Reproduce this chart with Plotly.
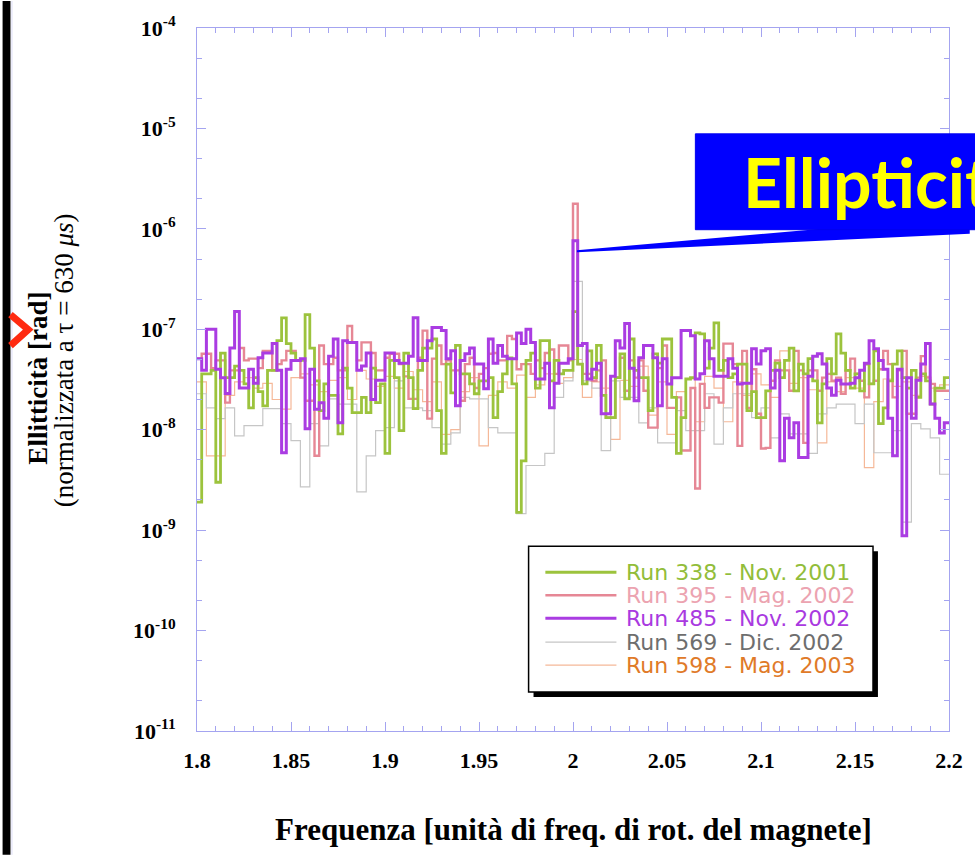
import plotly.graph_objects as go

# ---------------- data (ellipticity values in units of 1e-8 rad) ----------------
SCALE = 1e-8
F_MIN, F_MAX = 1.8, 2.2

run338 = [0.19, 3.6, 3.6, 3.9, 0.30, 5.8, 3.3, 3.3, 4.3, 3.9,
          2.86, 1.65, 3.3, 2.4, 1.73, 3.9, 3.9, 7.7, 13, 7.2,
          5.8, 4.9, 4.9, 14, 6.5, 3.07, 1.55, 2.86, 2.2, 2.2,
          0.91, 4.1, 2.6, 1.48, 1.48, 2.1, 1.48, 4.1, 1.86, 2.86,
          0.58,
          4.9, 3.3, 0.98, 5.8, 3.3, 1.62, 3.9, 6.5, 6.5, 8,
          1.55, 0.58, 4.5, 2.33, 6.9, 3.6, 3.6, 2.86, 2.28, 3.07,
          3.07, 3.3, 1.32, 2.4, 3.6, 5.2, 2.86, 0.15, 0.49, 4.9,
          5.8, 2.6, 7.7, 7.7, 3.07, 4.9, 3.6, 3.9, 3.9,
          15,
          4.5, 2.86, 6.1, 3.3, 6.9, 2.2, 1.32, 1.32, 3.3, 5.7,
          2.03, 8, 3.9, 3.3, 3.3, 1.55, 5.7, 4.6, 8, 8,
          2.1, 0.58, 1.32, 3.2, 3.3, 9.2, 9, 4.1, 6.5, 11.6,
          3.9, 4.9, 3.3, 3.6, 4.5, 4.5, 1.55, 2.4, 1.32, 1.32,
          2.44, 3.9, 4.6, 3.3, 4.9, 6.5, 2.44, 4.5, 3.6, 5.1,
          3.07, 1.17, 2.86, 5.1, 3.6, 9, 5.8, 3.9, 2.6, 3.6,
          2.44, 4.5, 2.86, 6.1, 1.15, 1.65, 3.07, 4.5, 6.1, 3.3,
          2.6, 3.9, 2.1, 3.6, 3.07, 1.8, 2.6, 2.6, 3.3]

run395 = [5.1, 5.7, 5.7, 4.1, 4.9, 4.9, 1.86, 3.9, 3.9, 6.5,
          4.9, 5.1, 5.1, 4.1, 6.1, 6.1, 3.9, 4.5, 4.9, 6.1,
          6.1, 4.9, 3.3, 1.94, 1.94, 0.55, 6.9, 4.5, 4.5, 5.2,
          3.9, 3.9, 10.8, 7.4, 4.9, 7.4, 7.4, 5.8, 3.9, 3.9,
          5.2,
          5.7, 5.7, 4.5, 3.4, 2.03, 2.03, 5.2, 9.7, 1.29, 5.1,
          6.9, 4.5, 4.9, 3.9, 3.9, 1.94, 4.5, 5.2, 2.6, 3.6,
          4.1, 5.7, 5.8, 4.9, 4.9, 8.6, 8, 4.0, 4.5, 4.5,
          3.6, 4.9, 4.1, 5.8, 6.3, 3.6, 6.9, 6.9, 4.9,
          178,
          4.5, 3.6, 3.6, 3.07, 3.9, 4.9, 1.32, 1.32, 3.3, 5.2,
          2.44, 4.9, 3.3, 4.9, 2.44, 1.05, 1.05, 4.1, 6.9, 1.65,
          1.65, 2.1, 0.62, 0.62, 2.6, 0.26, 2.86, 1.65, 2.1, 2.1,
          1.86, 7.2, 7.2, 4.5, 0.69, 6.1, 1.65, 4.0, 1.44, 0.65,
          0.66, 3.07, 4.9, 3.9, 3.9, 2.44, 6.1, 3.9, 0.74, 3.9,
          3.9, 2.44, 3.3, 3.6, 3.07, 3.3, 2.28, 3.9, 5.1, 3.6,
          3.07, 2.1, 2.86, 3.07, 4.0, 6.1, 4.5, 2.1, 3.9, 6.1,
          1.44, 1.44, 3.3, 5.4, 3.3, 2.86, 2.44, 2.44, 2.44]

run485 = [5.1, 3.9, 10, 10, 4.0, 3.3, 2.3, 6.5, 15, 2.6,
          2.6, 4, 2.9, 5.2, 5.8, 5.8, 7.2, 3.9, 0.59, 4,
          4.9, 4.9, 5.1, 1.02, 4, 1.6, 1.86, 1.3, 5.4, 8,
          1.17, 7.7, 7.4, 7.4, 3.9, 4.3, 5.8, 2.0, 3.1, 3.1,
          5.8,
          5.8, 4.9, 4.6, 4.6, 5.4, 13, 4.9, 4.9, 7.7, 10.4,
          10.4, 9.7, 5.1, 6.1, 1.73, 4.9, 5.7, 6.5, 4.5, 4.5,
          2.56, 8, 4.6, 6.9, 5.4, 5.1, 5.1, 9.2, 7.2, 10,
          7.4, 3.2, 3.2, 4.6, 1.65, 2.9, 4.6, 4.6, 5.1,
          76,
          6.9, 7.2, 3.2, 4.0, 4.6, 1.44, 1.44, 3.4, 7.7, 6.5,
          11.4, 4.1, 1.94, 5.2, 6.9, 6.9, 5.2, 1.73, 5.1, 2.86,
          3.3, 3.3, 9.7, 9.7, 8.6, 3.2, 3.6, 7.7, 5.1, 3.4,
          3.4, 3.4, 5.1, 4.1, 2.86, 2.9, 2.9, 6.4, 4.5, 6.1,
          6.4, 2.6, 3.9, 0.49, 1.3, 0.83, 1.17, 0.53, 0.53, 3.4,
          5.4, 5.7, 4.5, 2.6, 2.2, 3.1, 2.86, 2.86, 2.9, 3.3,
          3.9, 4.6, 7.7, 6.4, 4.9, 4.0, 1.3, 0.55, 4.0, 0.088,
          3.3, 1.3, 3.1, 4.5, 7.2, 1.8, 1.3, 0.93, 1.17]

run569 = [2.28, 1.65, 1.29, 1.65, 0.87, 1.1, 1.1, 1.62, 1.62, 1.15,
          0.78, 0.27, 1.15, 0.69, 2.03, 1.8, 1.8, 0.24, 0.55, 0.98,
          1.05, 3.07, 1.65, 1.65, 1.55, 1.05, 0.72, 0.93, 2.1, 2.03,
          2.03, 1.05, 0.93, 0.93, 0.146, 0.44, 0.44, 0.58, 2.1, 3.07,
          30,
          3.07, 2.6, 0.62, 3.07, 2.1, 2.1, 1.17, 1.65, 0.74, 0.74,
          1.55, 0.98, 0.98, 2.28, 0.72, 1.65, 2.28, 2.28, 1.32, 1.65,
          0.83, 1.44, 0.91, 0.91, 0.58, 1.44, 1.65, 1.8, 1.8, 1.15,
          1.8, 0.59, 0.59, 0.98, 0.12, 1.15, 1.02, 0.83, 0.36]

run598 = [3.0, 0.55, 0.55, 2.2, 3.0, 3.3, 2.6, 2.9, 2.0, 1.6,
          3.3, 3.6, 2.8, 2.4, 3.1, 3.3, 2.0, 3.9, 3.2, 2.7,
          3.4, 2.6, 3.8, 2.5, 1.9, 3.0, 0.9, 1.0, 2.4, 3.3,
          0.69, 2.2, 3.0, 2.6, 3.5, 2.1, 2.8, 3.6, 2.9, 3.3,
          5.0, 2.1, 3.0, 2.6, 0.8, 3.1, 2.7, 4.3, 1.4, 3.0,
          0.9, 2.4, 3.2, 1.2, 3.4, 2.6, 1.2, 3.0, 2.2, 3.6,
          2.8, 2.1, 6.1, 2.9, 3.3, 2.5, 0.74, 3.0, 2.4, 3.3,
          2.6, 0.42, 1.9, 3.2, 2.7, 3.0, 2.2, 3.4, 2.6, 2.8]

LEGEND_LABELS = ["Run 338 - Nov. 2001", "Run 395 - Mag. 2002", "Run 485 - Nov. 2002",
                 "Run 569 - Dic. 2002", "Run 598 - Mag. 2003"]
X_TICKS = [1.8, 1.85, 1.9, 1.95, 2.0, 2.05, 2.1, 2.15, 2.2]
X_TICK_TEXT = ["1.8", "1.85", "1.9", "1.95", "2", "2.05", "2.1", "2.15", "2.2"]
Y_EXP = [-11, -10, -9, -8, -7, -6, -5, -4]

# ---------------- styles ----------------
W, H = 975, 855
L, R, T, B = 197, 959, 27, 731
AX = "#a4a4f0"

def px(x):
    return (x - L) / (R - L)

def py(y):
    return (B - y) / (B - T)

series = [  # data, line colour, width, legend text colour, legend row
    (run598, "#f5b898", 1.2, "#e07a28", 4),
    (run569, "#c6c6c6", 1.2, "#6e6e6e", 3),
    (run395, "#e68795", 2.4, "#eca3b0", 1),
    (run338, "#9cc33d", 2.8, "#92bd3a", 0),
    (run485, "#aa3ce2", 3.0, "#a93ae0", 2),
]

fig = go.Figure()
for vals, color, width, _, _ in series:
    n = len(vals)
    step = (F_MAX - F_MIN) / n
    xs = [F_MIN + i * step for i in range(n)] + [F_MAX]
    ys = [v * SCALE for v in vals] + [vals[-1] * SCALE]
    fig.add_trace(go.Scatter(x=xs, y=ys, mode="lines",
                             line=dict(color=color, width=width, shape="hv"),
                             showlegend=False, hoverinfo="skip"))

serif = "Liberation Serif, Times New Roman, serif"
tickfont = dict(family=serif, size=22, color="black", weight="bold")
fig.update_xaxes(range=[F_MIN, F_MAX], tickmode="array", tickvals=X_TICKS, ticktext=X_TICK_TEXT,
                 ticks="inside", ticklen=9, tickcolor=AX, showline=True, linecolor=AX, linewidth=1,
                 mirror="allticks", showgrid=False, zeroline=False, tickfont=tickfont,
                 ticklabelstandoff=10,
                 minor=dict(dtick=0.01, ticks="inside", ticklen=5, tickcolor=AX, showgrid=False))
fig.update_yaxes(type="log", range=[-11, -4], tickmode="array",
                 tickvals=[10.0 ** e for e in Y_EXP],
                 ticktext=["10<sup>%d</sup>" % e for e in Y_EXP],
                 ticks="inside", ticklen=9, tickcolor=AX, showline=True, linecolor=AX, linewidth=1,
                 mirror="allticks", showgrid=False, zeroline=False, tickfont=tickfont,
                 ticklabelstandoff=16,
                 minor=dict(ticks="inside", ticklen=5, tickcolor=AX, showgrid=False))

shapes = []
annotations = []

# left black strip and red chevron
shapes.append(dict(type="rect", xref="paper", yref="paper", x0=px(0), x1=px(8), y0=py(H), y1=py(0),
                   fillcolor="black", line=dict(width=0), layer="above"))
shapes.append(dict(type="line", xref="paper", yref="paper", x0=px(9.5), x1=px(9.5), y0=py(H), y1=py(0),
                   line=dict(color="#dcdcf6", width=1)))
shapes.append(dict(type="path", xref="paper", yref="paper",
                   path="M %f,%f L %f,%f L %f,%f" % (px(8), py(314), px(26), py(329), px(8), py(345)),
                   line=dict(color="#ff2a10", width=7)))

# axis titles
annotations.append(dict(xref="paper", yref="paper", x=px(35), y=py(378), text="Ellitticità [rad]",
                        textangle=-90, showarrow=False, xanchor="center", yanchor="middle",
                        font=dict(family=serif, size=27, color="black", weight="bold")))
annotations.append(dict(xref="paper", yref="paper", x=px(62), y=py(360),
                        text="(normalizzata a τ = 630 <i>μs</i>)",
                        textangle=-90, showarrow=False, xanchor="center", yanchor="middle",
                        font=dict(family=serif, size=27, color="black")))
annotations.append(dict(xref="paper", yref="paper", x=px(578), y=py(830),
                        text="Frequenza [unità di freq. di rot. del magnete]",
                        showarrow=False, xanchor="center", yanchor="middle",
                        font=dict(family=serif, size=31, color="black", weight="bold")))

# legend box (manual)
lx0, lx1, ly0, ly1 = 533, 882, 546, 692
shapes.append(dict(type="rect", xref="paper", yref="paper", x0=px(lx0 + 5), x1=px(lx1 + 5),
                   y0=py(ly1 + 5), y1=py(ly0 + 5), fillcolor="black", line=dict(width=0)))
shapes.append(dict(type="rect", xref="paper", yref="paper", x0=px(lx0), x1=px(lx1),
                   y0=py(ly1), y1=py(ly0), fillcolor="white", line=dict(color="black", width=1.5)))
rows_y = [572, 595, 618, 642, 665]
for (vals, color, width, tcolor, row) in series:
    yy = rows_y[row]
    shapes.append(dict(type="line", xref="paper", yref="paper", x0=px(550), x1=px(622),
                       y0=py(yy), y1=py(yy), line=dict(color=color, width=width)))
    annotations.append(dict(xref="paper", yref="paper", x=px(630), y=py(yy), text=LEGEND_LABELS[row],
                            showarrow=False, xanchor="left", yanchor="middle",
                            font=dict(family="DejaVu Sans, Liberation Sans, sans-serif", size=22,
                                      color=tcolor)))

# blue callout box with pointer
shapes.append(dict(type="path", xref="paper", yref="paper",
                   path="M %f,%f L %f,%f L %f,%f L %f,%f L %f,%f Z" % (
                       px(582), py(249.5), px(830), py(228), px(980), py(228), px(980), py(233),
                       px(582), py(251.5)),
                   fillcolor="#0000ff", line=dict(width=0)))
shapes.append(dict(type="rect", xref="paper", yref="paper", x0=px(702), x1=px(990),
                   y0=py(229), y1=py(133), fillcolor="#0000ff", line=dict(color="#0000ee", width=1)))
annotations.append(dict(xref="paper", yref="paper", x=px(748), y=py(181), text="Ellipticity",
                        showarrow=False, xanchor="left", yanchor="middle",
                        font=dict(family="Comic Sans MS, Lato, Noto Sans, sans-serif", size=68,
                                  color="#ffff00", weight="bold")))

fig.update_layout(width=W, height=H, margin=dict(l=L, r=W - R, t=T, b=H - B),
                  paper_bgcolor="white", plot_bgcolor="white", showlegend=False,
                  shapes=shapes, annotations=annotations)

fig.write_html("out.html")
